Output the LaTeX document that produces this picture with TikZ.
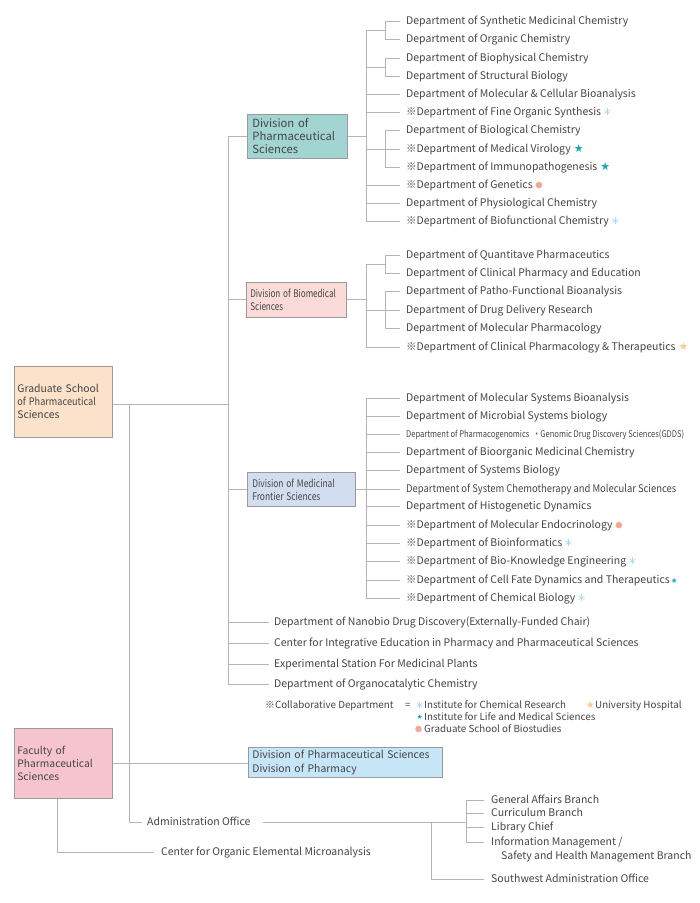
\documentclass[tikz,border=0pt]{standalone}
\usepackage{fontspec}
\usepackage{graphicx}
\setmainfont{Noto Sans CJK JP}
\newfontfamily\cjk{Noto Sans CJK JP}
\newfontfamily\dejavu{DejaVu Sans}
\definecolor{lncol}{HTML}{B4B4B4}
\definecolor{boxcol}{HTML}{9A9A9A}
\definecolor{txt}{HTML}{444444}
\definecolor{cdps}{HTML}{A2D5D1}
\definecolor{cdbs}{HTML}{FADBD9}
\definecolor{cdmf}{HTML}{D3DDF0}
\definecolor{cgrad}{HTML}{FCE2CB}
\definecolor{cfac}{HTML}{F6C4CE}
\definecolor{cdivp}{HTML}{C6E6F8}
\definecolor{astblue}{HTML}{A9DAF2}
\definecolor{tealstar}{HTML}{19A9B9}
\definecolor{orstar}{HTML}{FBCB8C}
\definecolor{salmon}{HTML}{F2A797}
\newcommand\refm{{\cjk ※}}
\newcommand\astpic{\tikz[x=1pt,y=1pt]{\foreach \a in {90,30,150}{\draw[astblue,line width=0.7pt] (\a:3.3)--(\a+180:3.3);}}}
\newcommand\dotpic{\tikz[x=1pt,y=1pt]{\fill[salmon] (0,0) circle (3.3);}}
\newcommand\blast{\kern3pt\raisebox{0pt}{\astpic}}
\newcommand\tstar{\kern3pt{\dejavu\fontsize{11}{11}\selectfont\color{tealstar}★}}
\newcommand\sstar{\kern1pt{\dejavu\fontsize{7.5}{7.5}\selectfont\color{tealstar}★}}
\newcommand\ostar{\kern3pt{\dejavu\fontsize{11}{11}\selectfont\color{orstar}★}}
\newcommand\sdot{\kern3pt\raisebox{0pt}{\dotpic}}
\begin{document}
\begin{tikzpicture}[x=1pt,y=-1pt,
  ln/.style={draw=lncol,line width=0.8pt},
  dept/.style={anchor=west,inner sep=0pt,font=\fontsize{10.5}{12}\selectfont,text height=1.5ex,text depth=0.25ex,text=txt},
  leg/.style={dept,font=\fontsize{9.8}{11}\selectfont},
  box/.style={draw=boxcol,line width=0.7pt,anchor=north west,align=left,inner xsep=5pt,inner ysep=0pt,text=txt}]
\useasboundingbox (0,0) rectangle (700,903);

% ---- boxes
\node[box,fill=cgrad,minimum width=98pt,text width=92pt,inner xsep=3pt,minimum height=71pt,font=\fontsize{10.4}{13}\selectfont] (grad) at (14,366) {Graduate School\\\scalebox{0.88}[1]{of Pharmaceutical}\\Sciences};
\node[box,fill=cfac,minimum width=98pt,text width=92pt,inner xsep=3pt,minimum height=70pt,font=\fontsize{10.3}{13}\selectfont] (fac) at (14,728) {Faculty of\\Pharmaceutical\\Sciences};
\node[box,fill=cdps,minimum width=100pt,text width=90pt,minimum height=44pt,font=\fontsize{11.3}{13}\selectfont] (dps) at (247,114) {Division of\\Pharmaceutical\\Sciences};
\node[box,fill=cdbs,minimum width=100pt,text width=92pt,minimum height=35pt,inner xsep=4pt,font=\fontsize{10.5}{13}\selectfont] (dbs) at (246,282) {\scalebox{0.77}[1]{Division of Biomedical}\\\scalebox{0.77}[1]{Sciences}};
\node[box,fill=cdmf,minimum width=108pt,text width=98pt,minimum height=34pt,font=\fontsize{10.5}{13}\selectfont] (dmf) at (247,472) {\scalebox{0.8}[1]{Division of Medicinal}\\\scalebox{0.8}[1]{Frontier Sciences}};
\node[box,fill=cdivp,minimum width=194pt,text width=186pt,minimum height=30pt,inner xsep=4pt,font=\fontsize{10.4}{14}\selectfont] (divp) at (248,747) {Division of Pharmaceutical Sciences\\Division of Pharmacy};

% ---- division 1 departments
\foreach \n/\y/\t in {
 a1/21/{Department of Synthetic Medicinal Chemistry},
 a2/39/{Department of Organic Chemistry},
 a3/58/{Department of Biophysical Chemistry},
 a4/76/{Department of Structural Biology},
 a5/94/{Department of Molecular \& Cellular Bioanalysis},
 a6/112/{\refm Department of Fine Organic Synthesis\blast},
 a7/130/{Department of Biological Chemistry},
 a8/149/{\refm Department of Medical Virology\tstar},
 a9/167/{\refm Department of Immunopathogenesis\tstar},
 a10/185/{\refm Department of Genetics\sdot},
 a11/203/{Department of Physiological Chemistry},
 a12/221/{\refm Department of Biofunctional Chemistry\blast}}
 {\node[dept] (\n) at (406,\y) {\t};}

% ---- division 2 departments
\foreach \n/\y/\t in {
 b1/255/{Department of Quantitave Pharmaceutics},
 b2/273/{Department of Clinical Pharmacy and Education},
 b3/291/{Department of Patho-Functional Bioanalysis},
 b4/310/{Department of Drug Delivery Research},
 b5/328/{Department of Molecular Pharmacology},
 b6/347/{\refm Department of Clinical Pharmacology \& Therapeutics\ostar}}
 {\node[dept] (\n) at (406,\y) {\t};}

% ---- division 3 departments
\foreach \n/\y/\t in {
 c1/398/{Department of Molecular Systems Bioanalysis},
 c2/416/{Department of Microbial Systems biology},
 c3/434/{\resizebox{278pt}{\height}{\fontsize{9.2}{10}\selectfont Department of Pharmacogenomics\ \ {\cjk ・}Genomic Drug Discovery Sciences(GDDS)}},
 c4/452/{Department of Bioorganic Medicinal Chemistry},
 c5/470/{Department of Systems Biology},
 c6/489/{\resizebox{270pt}{\height}{Department of System Chemotherapy and Molecular Sciences}},
 c7/506/{Department of Histogenetic Dynamics},
 c8/525/{\refm Department of Molecular Endocrinology\sdot},
 c9/543/{\refm Department of Bioinformatics\blast},
 c10/561/{\refm Department of Bio-Knowledge Engineering\blast},
 c11/580/{\refm Department of Cell Fate Dynamics and Therapeutics\sstar},
 c12/598/{\refm Department of Chemical Biology\blast}}
 {\node[dept] (\n) at (406,\y) {\t};}

% ---- other departments
\foreach \n/\y/\t in {
 d1/622/{Department of Nanobio Drug Discovery(Externally-Funded Chair)},
 d2/643/{Center for Integrative Education in Pharmacy and Pharmaceutical Sciences},
 d3/664/{Experimental Station For Medicinal Plants},
 d4/684/{Department of Organocatalytic Chemistry}}
 {\node[dept] (\n) at (274,\y) {\t};}

% ---- legend
\node[leg] (lg1) at (265,705) {\refm Collaborative Department};
\node[leg] (lgeq) at (405,705) {=};
\node[leg] (lg2) at (424,705) {Institute for Chemical Research};
\node[leg] (lg3) at (595,705) {University Hospital};
\node[leg] (lg4) at (424,717) {Institute for Life and Medical Sciences};
\node[leg] (lg5) at (424,729) {Graduate School of Biostudies};
\node[anchor=east,inner sep=0pt] at ([xshift=-1pt]lg2.west) {\astpic};
\node[anchor=east,inner sep=0pt] at ([xshift=0pt]lg3.west) {\dejavu\fontsize{10}{10}\selectfont\color{orstar}★};
\node[anchor=east,inner sep=0pt] at ([xshift=-1pt]lg4.west) {\dejavu\fontsize{7}{7}\selectfont\color{tealstar}★};
\node[anchor=east,inner sep=0pt] at ([xshift=-2pt]lg5.west) {\dotpic};

% ---- administration
\node[dept] (adm) at (147,822) {Administration Office};
\node[dept] (coe) at (161,852) {Center for Organic Elemental Microanalysis};
\node[dept] (g1) at (491,800) {General Affairs Branch};
\node[dept] (g2) at (491,813) {Curriculum Branch};
\node[dept] (g3) at (491,827) {Library Chief};
\node[dept] (g4) at (491,842) {Information Management /};
\node[dept] (g5) at (501,856) {Safety and Health Management Branch};
\node[dept] (sw) at (491,879) {Southwest Administration Office};

% ---- junction coordinates
\coordinate (mt) at (228,0);
\coordinate (ta) at (366,0);
\coordinate (sa) at (385,0);
\coordinate (ga) at (466,0);
\coordinate (gb) at (431,0);

% ---- main trunk
\draw[ln] (mt |- dps.west) -- (mt |- d4.west);
\draw[ln] (mt |- dps.west) -- (dps.west);
\draw[ln] (mt |- dbs.west) -- (dbs.west);
\draw[ln] (mt |- dmf.west) -- (dmf.west);
\foreach \n in {d1,d2,d3,d4}{\draw[ln] (mt |- \n.west) -- ([xshift=-5pt]\n.west);}
\draw[ln] (grad.east |- 0,404) -- (mt |- 0,404);

% ---- division 1
\draw[ln] (dps.east) -- (ta |- dps.east);
\draw[ln] (366,30) -- (ta |- a12.west);
\draw[ln] (366,30) -- (385,30);
\draw[ln] (366,67) -- (385,67);
\draw[ln] (sa |- a1.west) -- (sa |- a2.west);
\draw[ln] (sa |- a3.west) -- (sa |- a4.west);
\draw[ln] (sa |- a7.west) -- (sa |- a9.west);
\foreach \n in {a1,a2,a3,a4,a7,a9}{\draw[ln] (sa |- \n.west) -- ([xshift=-6pt]\n.west);}
\foreach \n in {a5,a6,a8,a10,a11,a12}{\draw[ln] (ta |- \n.west) -- ([xshift=-6pt]\n.west);}

% ---- division 2
\draw[ln] (dbs.east) -- (ta |- dbs.east);
\draw[ln] (366,264) -- (ta |- b6.west);
\draw[ln] (366,264) -- (385,264);
\draw[ln] (sa |- b1.west) -- (sa |- b2.west);
\draw[ln] (sa |- b3.west) -- (sa |- b5.west);
\foreach \n in {b1,b2,b3,b5}{\draw[ln] (sa |- \n.west) -- ([xshift=-6pt]\n.west);}
\foreach \n in {b4,b6}{\draw[ln] (ta |- \n.west) -- ([xshift=-6pt]\n.west);}

% ---- division 3
\draw[ln] (dmf.east) -- (ta |- dmf.east);
\draw[ln] (ta |- c1.west) -- (ta |- c12.west);
\foreach \n in {c1,c2,c3,c4,c5,c6,c7,c8,c9,c10,c11,c12}{\draw[ln] (ta |- \n.west) -- ([xshift=-6pt]\n.west);}

% ---- faculty and administration
\draw[ln] (fac.east) -- (divp.west |- fac.east);
\draw[ln] (129,404) |- ([xshift=-5pt]adm.west);
\draw[ln] (fac.south -| 57,0) |- ([xshift=-7pt]coe.west);
\draw[ln] ([xshift=12pt]adm.east) -- (ga |- adm.east);
\draw[ln] (ga |- g1.west) -- (ga |- g4.west);
\foreach \n in {g1,g2,g3,g4}{\draw[ln] (ga |- \n.west) -- ([xshift=-7pt]\n.west);}
\draw[ln] (gb |- adm.east) |- ([xshift=-7pt]sw.west);
\end{tikzpicture}
\end{document}
